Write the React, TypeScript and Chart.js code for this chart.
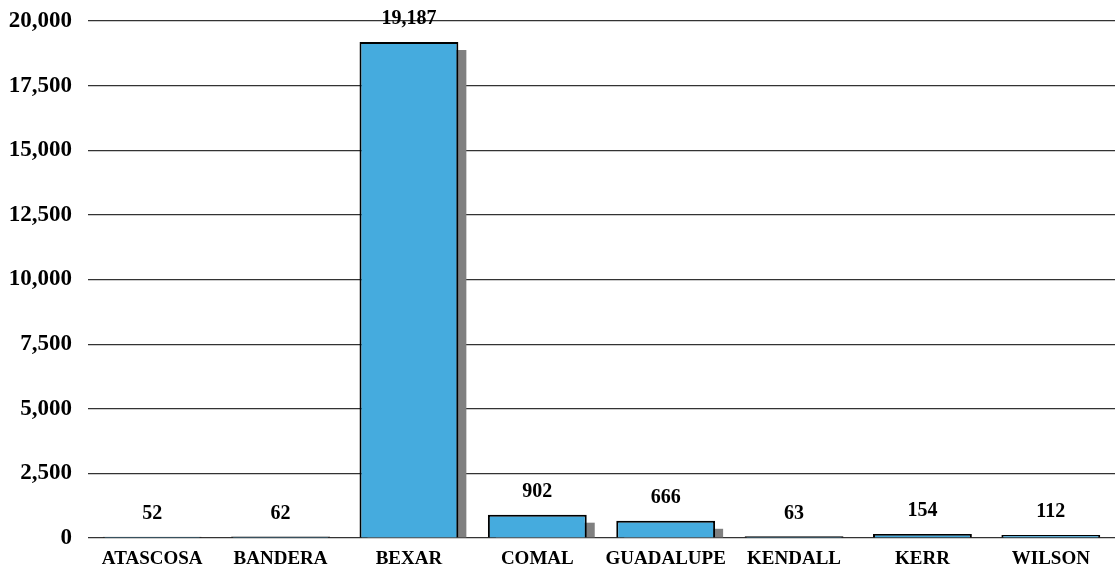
import React, { useEffect, useRef } from "react";
import { Chart, registerables } from "chart.js";

Chart.register(...registerables);

const categories = ["ATASCOSA", "BANDERA", "BEXAR", "COMAL", "GUADALUPE", "KENDALL", "KERR", "WILSON"];
const values = [52, 62, 19187, 902, 666, 63, 154, 112];
const yTicks = [0, 2500, 5000, 7500, 10000, 12500, 15000, 17500, 20000];

const FONT = "'Liberation Serif', 'DejaVu Serif', serif";

const shadowPlugin = {
  id: "barShadow",
  beforeDatasetsDraw(chart: any) {
    const ctx = chart.ctx;
    const meta = chart.getDatasetMeta(0);
    const area = chart.chartArea;
    ctx.save();
    ctx.fillStyle = "#808080";
    meta.data.forEach((bar: any) => {
      const w = bar.width;
      const left = bar.x - w / 2 + 8;
      const top = bar.y + 8;
      const bottom = bar.base;
      if (bottom > top) ctx.fillRect(left, top, w, Math.min(bottom, area.bottom) - top);
    });
    ctx.restore();
  },
};

const labelPlugin = {
  id: "barLabels",
  afterDatasetsDraw(chart: any) {
    const ctx = chart.ctx;
    const meta = chart.getDatasetMeta(0);
    ctx.save();
    ctx.font = `bold 20px ${FONT}`;
    ctx.fillStyle = "#000";
    ctx.textAlign = "center";
    ctx.textBaseline = "middle";
    meta.data.forEach((bar: any, i: number) => {
      ctx.fillText(values[i].toLocaleString("en-US"), bar.x, bar.y - 23);
    });
    ctx.restore();
  },
};

export default function App() {
  const ref = useRef<HTMLCanvasElement>(null);
  useEffect(() => {
    document.body.style.margin = "0";
    const chart = new Chart(ref.current!, {
      type: "bar",
      data: {
        labels: categories,
        datasets: [
          {
            data: values,
            backgroundColor: "#45ABDE",
            borderColor: "#000000",
            borderWidth: 2,
            categoryPercentage: 0.77,
            barPercentage: 1,
          },
        ],
      },
      options: {
        animation: false,
        responsive: false,
        maintainAspectRatio: false,
        layout: { padding: { top: 21, right: 0, left: 0, bottom: 0 } },
        plugins: { legend: { display: false }, tooltip: { enabled: false } },
        scales: {
          x: {
            grid: { display: false, drawTicks: false },
            border: { display: false },
            ticks: {
              color: "#000",
              font: { family: FONT, size: 19, weight: "bold" },
              padding: 10,
              maxRotation: 0,
              autoSkip: false,
            },
            afterFit: (s: any) => {
              s.height = 33;
            },
          },
          y: {
            min: 0,
            max: 20000,
            afterBuildTicks: (s: any) => {
              s.ticks = yTicks.map((v) => ({ value: v }));
            },
            grid: { color: "#333", lineWidth: 1.2, drawTicks: false },
            border: { display: false },
            ticks: {
              color: "#000",
              font: { family: FONT, size: 23, weight: "bold" },
              padding: 16,
              callback: (v: any) => Number(v).toLocaleString("en-US"),
            },
            afterFit: (s: any) => {
              s.width = 88;
              s.paddingTop = 0;
              s.paddingBottom = 0;
            },
          },
        },
      },
      plugins: [shadowPlugin, labelPlugin],
    });
    return () => chart.destroy();
  }, []);
  return (
    <div style={{ position: "absolute", left: 0, top: 0, width: 1115, height: 571, background: "#fff" }}>
      <canvas ref={ref} width={1115} height={571} />
    </div>
  );
}
